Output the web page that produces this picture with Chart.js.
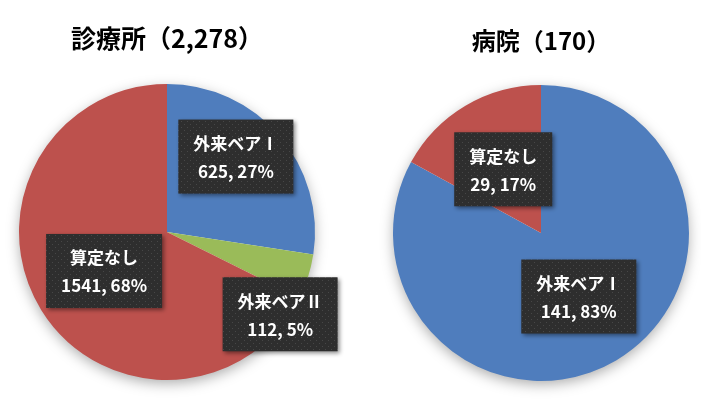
<!DOCTYPE html>
<html>
<head>
<meta charset="utf-8">
<script src="https://cdn.jsdelivr.net/npm/chart.js@4.4.1/dist/chart.umd.min.js"></script>
<style>
  html, body { margin: 0; padding: 0; background: #fff; }
  #wrap { position: relative; width: 701px; height: 408px; overflow: hidden; }
  canvas { position: absolute; top: 0; }
  #clinic { left: 0; }
  #hospital { left: 350px; }
</style>
</head>
<body>
<div id="wrap">
  <canvas id="clinic" width="360" height="408"></canvas>
  <canvas id="hospital" width="351" height="408"></canvas>
</div>
<script>
const clinicLabels = ["外来ベアⅠ", "外来ベアⅡ", "算定なし"];
const clinicValues = [625, 112, 1541];
const clinicColors = ["#4f7dbd", "#9abb59", "#bd514d"];

const hospitalLabels = ["外来ベアⅠ", "算定なし"];
const hospitalValues = [141, 29];
const hospitalColors = ["#4f7dbd", "#bd514d"];

const FONT = "'Noto Sans CJK JP', 'Noto Sans', sans-serif";

function total(values) {
  return values.reduce((a, b) => a + b, 0);
}

function dotPattern(ctx) {
  const c = document.createElement("canvas");
  c.width = 6; c.height = 6;
  const g = c.getContext("2d");
  g.fillStyle = "#2e2e2e";
  g.fillRect(0, 0, 6, 6);
  g.fillStyle = "#474747";
  g.fillRect(1, 1, 1, 1);
  g.fillRect(4, 4, 1, 1);
  return ctx.createPattern(c, "repeat");
}

// soft shadow behind the pie, like the Excel original
const pieShadow = {
  id: "pieShadow",
  beforeDatasetsDraw(chart) {
    const arc = chart.getDatasetMeta(0).data[0];
    if (!arc) return;
    const { x, y, outerRadius } = arc.getProps(["x", "y", "outerRadius"], true);
    const ctx = chart.ctx;
    ctx.save();
    ctx.shadowColor = "rgba(0,0,0,0.35)";
    ctx.shadowBlur = 14;
    ctx.shadowOffsetY = 4;
    ctx.fillStyle = "#fff";
    ctx.beginPath();
    ctx.arc(x, y, outerRadius - 1, 0, Math.PI * 2);
    ctx.fill();
    ctx.restore();
  }
};

// dark label boxes: "name / value, pct%"
const boxLabels = {
  id: "boxLabels",
  afterDatasetsDraw(chart, args, opts) {
    const ctx = chart.ctx;
    const ds = chart.data.datasets[0];
    const sum = total(ds.data);
    const pattern = dotPattern(ctx);
    chart.getDatasetMeta(0).data.forEach((arc, i) => {
      const p = arc.getProps(["x", "y", "startAngle", "endAngle", "outerRadius"], true);
      const mid = (p.startAngle + p.endAngle) / 2 + (opts.turn[i] || 0) * Math.PI / 180;
      const dist = p.outerRadius * opts.dist[i];
      const cx = p.x + Math.cos(mid) * dist;
      const cy = p.y + Math.sin(mid) * dist;
      const lines = [
        chart.data.labels[i],
        ds.data[i] + ", " + Math.round(ds.data[i] / sum * 100) + "%"
      ];
      ctx.save();
      ctx.font = "bold 17px " + FONT;
      const tw = Math.max(...lines.map((s) => ctx.measureText(s).width));
      const w = tw + 30;
      const h = 74;
      ctx.shadowColor = "rgba(0,0,0,0.45)";
      ctx.shadowBlur = 4;
      ctx.shadowOffsetX = 2;
      ctx.shadowOffsetY = 2;
      ctx.fillStyle = pattern;
      ctx.fillRect(cx - w / 2, cy - h / 2, w, h);
      ctx.shadowColor = "transparent";
      ctx.fillStyle = "#fff";
      ctx.textAlign = "center";
      ctx.textBaseline = "middle";
      ctx.fillText(lines[0], cx, cy - 13);
      ctx.fillText(lines[1], cx, cy + 15);
      ctx.restore();
    });
  }
};

function makePie(canvas, title, labels, values, colors, layout, labelOpts) {
  return new Chart(canvas, {
    type: "pie",
    data: {
      labels,
      datasets: [{
        data: values,
        backgroundColor: colors,
        borderWidth: 0
      }]
    },
    options: {
      responsive: false,
      animation: false,
      layout: { padding: layout.padding },
      plugins: {
        legend: { display: false },
        tooltip: { enabled: false },
        title: {
          display: true,
          text: title,
          color: "#000",
          font: { family: FONT, size: layout.titleSize, weight: "bold" },
          padding: layout.titlePadding
        },
        boxLabels: labelOpts
      }
    },
    plugins: [pieShadow, boxLabels]
  });
}

makePie(
  document.getElementById("clinic"),
  "診療所（" + total(clinicValues).toLocaleString("en-US") + "）",
  clinicLabels, clinicValues, clinicColors,
  { padding: { left: 19, right: 45, top: 0, bottom: 28 }, titleSize: 25, titlePadding: { top: 23, bottom: 31 } },
  { dist: [0.69, 0.945, 0.5], turn: [-7, 18.4, 0] }
);

makePie(
  document.getElementById("hospital"),
  "病院（" + total(hospitalValues) + "）",
  hospitalLabels, hospitalValues, hospitalColors,
  { padding: { left: 43, right: 12, top: 0, bottom: 27 }, titleSize: 24, titlePadding: { top: 26, bottom: 30 } },
  { dist: [0.5, 0.5], turn: [0, 0] }
);
</script>
</body>
</html>
